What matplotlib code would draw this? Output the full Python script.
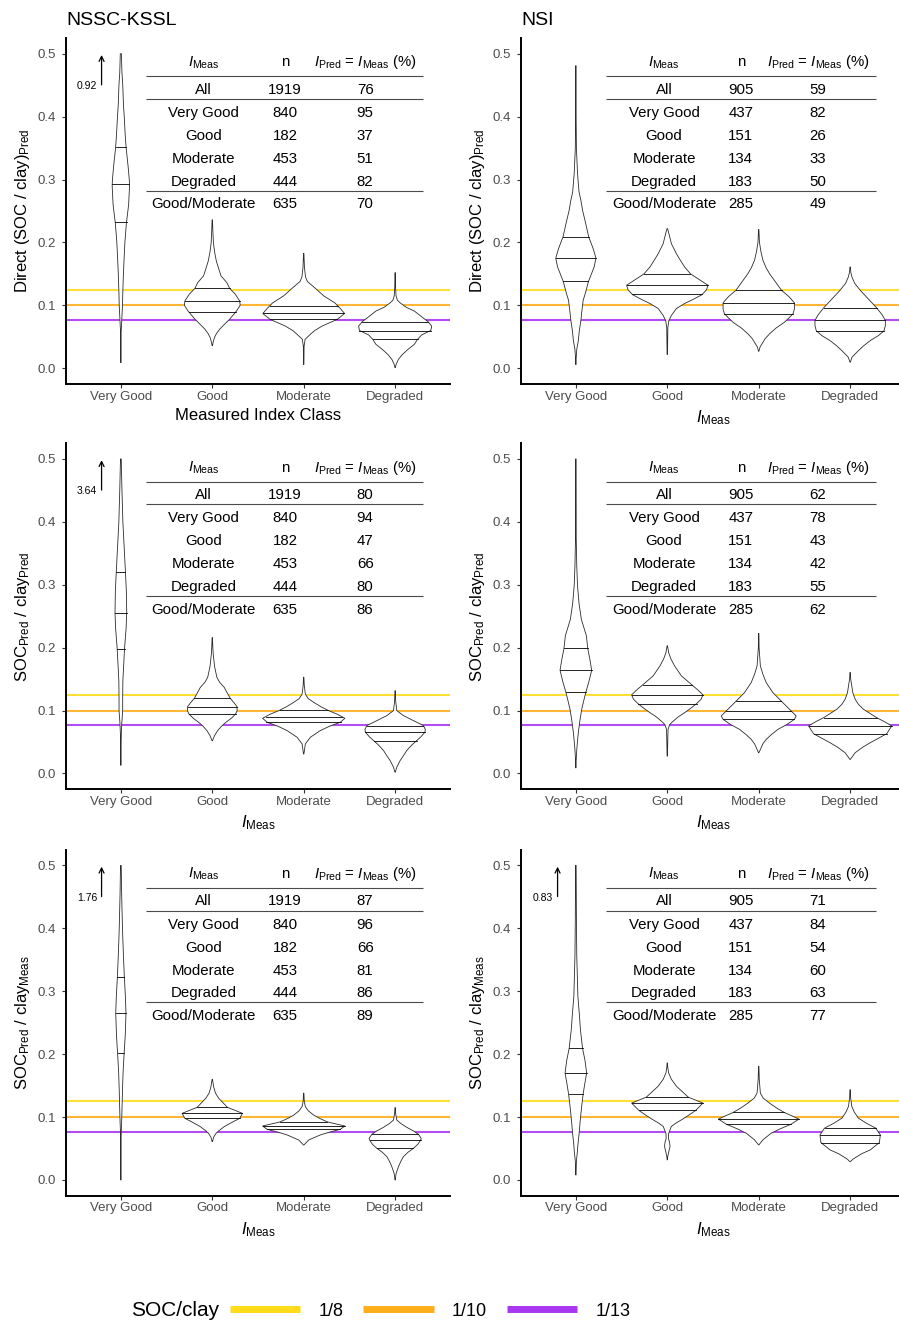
import numpy as np
import matplotlib
matplotlib.use("Agg")
import matplotlib.pyplot as plt
from matplotlib.lines import Line2D

plt.rcParams["font.family"] = ["Liberation Sans", "DejaVu Sans"]
plt.rcParams["mathtext.fontset"] = "custom"
plt.rcParams["mathtext.rm"] = "Liberation Sans"
plt.rcParams["mathtext.it"] = "Liberation Sans:italic"
plt.rcParams["mathtext.bf"] = "Liberation Sans:bold"

# ---------------------------------------------------------------- data
CLASSES = ["Very Good", "Good", "Moderate", "Degraded"]
TABLE_ROWS = ["All", "Very Good", "Good", "Moderate", "Degraded", "Good/Moderate"]

# SOC/clay reference thresholds
REF_VALUES = [1 / 8, 1 / 10, 1 / 13]
REF_LABELS = ["1/8", "1/10", "1/13"]
REF_COLORS = ["#FFD700", "#FFA500", "#A020F0"]

# table contents
KSSL_N = [1919, 840, 182, 453, 444, 635]
NSI_N = [905, 437, 151, 134, 183, 285]
KSSL_DIRECT_PCT = [76, 95, 37, 51, 82, 70]
NSI_DIRECT_PCT = [59, 82, 26, 33, 50, 49]
KSSL_PP_PCT = [80, 94, 47, 66, 80, 86]
NSI_PP_PCT = [62, 78, 43, 42, 55, 62]
KSSL_PM_PCT = [87, 96, 66, 81, 86, 89]
NSI_PM_PCT = [71, 84, 54, 60, 63, 77]

# maximum of the Very Good class (values above 0.5 are off-scale)
KSSL_DIRECT_MAX = "0.92"
KSSL_PP_MAX = "3.64"
KSSL_PM_MAX = "1.76"
NSI_PM_MAX = "0.83"

# violin density profiles: (value, half-width) from top to bottom, one list per class
KSSL_DIRECT_PROFILE = [
    [(0.500, 0.006), (0.47, 0.012), (0.45, 0.021), (0.42, 0.028), (0.40, 0.037), (0.37, 0.048),
     (0.35, 0.058), (0.32, 0.08), (0.30, 0.092), (0.29, 0.095), (0.26, 0.085), (0.23, 0.06),
     (0.20, 0.044), (0.17, 0.034), (0.15, 0.028), (0.12, 0.021), (0.10, 0.018), (0.08, 0.011),
     (0.065, 0.006), (0.055, 0.002), (0.009, 0.002)],
    [(0.236, 0.002), (0.22, 0.006), (0.20, 0.012), (0.185, 0.025), (0.17, 0.045), (0.157, 0.073),
     (0.147, 0.095), (0.136, 0.16), (0.127, 0.19), (0.118, 0.25), (0.107, 0.30), (0.100, 0.305),
     (0.091, 0.265), (0.078, 0.19), (0.068, 0.12), (0.062, 0.08), (0.055, 0.045), (0.049, 0.024),
     (0.042, 0.01), (0.036, 0.002)],
    [(0.1825, 0.002), (0.16, 0.008), (0.145, 0.02), (0.138, 0.04), (0.128, 0.12), (0.115, 0.22),
     (0.104, 0.34), (0.095, 0.40), (0.087, 0.447), (0.078, 0.37), (0.067, 0.20), (0.060, 0.12),
     (0.054, 0.073), (0.046, 0.015), (0.035, 0.004), (0.006, 0.002)],
    [(0.152, 0.002), (0.13, 0.004), (0.115, 0.01), (0.108, 0.025), (0.104, 0.055), (0.097, 0.12),
     (0.091, 0.21), (0.083, 0.28), (0.074, 0.36), (0.067, 0.40), (0.060, 0.39), (0.053, 0.29),
     (0.046, 0.245), (0.038, 0.21), (0.030, 0.14), (0.022, 0.08), (0.014, 0.035), (0.006, 0.01),
     (0.001, 0.002)],
]
KSSL_DIRECT_QUARTILES = [[0.2323, 0.2931, 0.3524], [0.090, 0.1069, 0.1275],
                         [0.0778, 0.0874, 0.0995], [0.046, 0.060, 0.0738]]

NSI_DIRECT_PROFILE = [
    [(0.481, 0.002), (0.40, 0.003), (0.35, 0.006), (0.31, 0.018), (0.28, 0.035), (0.267, 0.055),
     (0.25, 0.075), (0.235, 0.10), (0.209, 0.14), (0.19, 0.19), (0.175, 0.22), (0.161, 0.20),
     (0.138, 0.138), (0.12, 0.105), (0.108, 0.08), (0.09, 0.065), (0.076, 0.055), (0.06, 0.038),
     (0.044, 0.027), (0.03, 0.01), (0.015, 0.003), (0.006, 0.002)],
    [(0.222, 0.003), (0.214, 0.018), (0.198, 0.045), (0.182, 0.10), (0.170, 0.15), (0.161, 0.19),
     (0.150, 0.255), (0.14, 0.36), (0.132, 0.445), (0.125, 0.43), (0.117, 0.38), (0.11, 0.29),
     (0.103, 0.19), (0.095, 0.10), (0.084, 0.045), (0.076, 0.018), (0.065, 0.006), (0.04, 0.004),
     (0.022, 0.002)],
    [(0.2205, 0.002), (0.20, 0.008), (0.185, 0.025), (0.172, 0.045), (0.16, 0.08), (0.15, 0.12),
     (0.14, 0.17), (0.1238, 0.25), (0.114, 0.33), (0.104, 0.39), (0.094, 0.39), (0.0866, 0.375),
     (0.08, 0.33), (0.073, 0.28), (0.064, 0.19), (0.055, 0.12), (0.047, 0.07), (0.041, 0.045),
     (0.034, 0.015), (0.027, 0.002)],
    [(0.161, 0.002), (0.152, 0.008), (0.145, 0.02), (0.135, 0.05), (0.124, 0.11), (0.11, 0.2),
     (0.096, 0.29), (0.085, 0.35), (0.076, 0.385), (0.068, 0.385), (0.0595, 0.37), (0.052, 0.31),
     (0.044, 0.22), (0.036, 0.15), (0.028, 0.09), (0.0175, 0.02), (0.0096, 0.002)],
]
NSI_DIRECT_QUARTILES = [[0.1381, 0.1753, 0.2088], [0.1174, 0.1318, 0.1504],
                        [0.0866, 0.1036, 0.1238], [0.0595, 0.076, 0.0962]]

KSSL_PP_PROFILE = [
    [(0.500, 0.004), (0.45, 0.012), (0.40, 0.022), (0.36, 0.036), (0.321, 0.05), (0.29, 0.06),
     (0.256, 0.064), (0.232, 0.058), (0.198, 0.04), (0.17, 0.03), (0.147, 0.022), (0.12, 0.02),
     (0.10, 0.02), (0.08, 0.01), (0.063, 0.005), (0.04, 0.002), (0.013, 0.002)],
    [(0.216, 0.002), (0.20, 0.006), (0.19, 0.01), (0.17, 0.025), (0.153, 0.05), (0.145, 0.08),
     (0.137, 0.13), (0.1195, 0.196), (0.112, 0.24), (0.1062, 0.27), (0.10, 0.272), (0.0946, 0.255),
     (0.088, 0.21), (0.0814, 0.15), (0.075, 0.10), (0.068, 0.058), (0.06, 0.024), (0.052, 0.002)],
    [(0.153, 0.002), (0.14, 0.006), (0.126, 0.018), (0.119, 0.05), (0.113, 0.11), (0.106, 0.19),
     (0.100, 0.27), (0.094, 0.37), (0.0877, 0.45), (0.0814, 0.40), (0.075, 0.28), (0.068, 0.18),
     (0.0576, 0.073), (0.047, 0.018), (0.031, 0.002)],
    [(0.1316, 0.002), (0.115, 0.006), (0.10, 0.018), (0.092, 0.09), (0.084, 0.20), (0.0761, 0.31),
     (0.07, 0.33), (0.0655, 0.325), (0.058, 0.28), (0.0523, 0.236), (0.045, 0.18), (0.0365, 0.127),
     (0.028, 0.09), (0.0206, 0.055), (0.01, 0.018), (0.002, 0.002)],
]
KSSL_PP_QUARTILES = [[0.1977, 0.2558, 0.3208], [0.0946, 0.1062, 0.1195],
                     [0.0825, 0.0905, 0.1004], [0.0523, 0.0655, 0.0761]]

NSI_PP_PROFILE = [
    [(0.500, 0.003), (0.373, 0.004), (0.33, 0.01), (0.299, 0.018), (0.27, 0.035), (0.245, 0.06),
     (0.219, 0.115), (0.1987, 0.13), (0.18, 0.155), (0.164, 0.173), (0.1445, 0.14), (0.1296, 0.11),
     (0.115, 0.085), (0.102, 0.064), (0.085, 0.045), (0.065, 0.027), (0.045, 0.014), (0.033, 0.008),
     (0.02, 0.003), (0.009, 0.002)],
    [(0.203, 0.002), (0.192, 0.015), (0.182, 0.04), (0.171, 0.08), (0.155, 0.155), (0.1408, 0.27),
     (0.132, 0.34), (0.1249, 0.39), (0.118, 0.37), (0.111, 0.32), (0.104, 0.26), (0.0967, 0.19),
     (0.09, 0.12), (0.083, 0.064), (0.078, 0.027), (0.07, 0.008), (0.05, 0.005), (0.0276, 0.002)],
    [(0.2226, 0.002), (0.20, 0.004), (0.171, 0.018), (0.158, 0.045), (0.1445, 0.082), (0.1286, 0.155),
     (0.1153, 0.245), (0.0994, 0.355), (0.0914, 0.41), (0.0861, 0.39), (0.078, 0.31), (0.0701, 0.21),
     (0.062, 0.14), (0.0542, 0.082), (0.047, 0.045), (0.041, 0.027), (0.033, 0.002)],
    [(0.1605, 0.002), (0.15, 0.006), (0.139, 0.018), (0.128, 0.03), (0.118, 0.055), (0.11, 0.09),
     (0.102, 0.146), (0.0887, 0.29), (0.082, 0.38), (0.0755, 0.455), (0.0632, 0.40), (0.056, 0.31),
     (0.0489, 0.22), (0.042, 0.14), (0.033, 0.055), (0.0223, 0.002)],
]
NSI_PP_QUARTILES = [[0.1296, 0.1642, 0.1987], [0.111, 0.1249, 0.1408],
                    [0.0861, 0.0994, 0.1153], [0.0632, 0.0755, 0.0887]]

KSSL_PM_PROFILE = [
    [(0.500, 0.004), (0.46, 0.008), (0.434, 0.012), (0.40, 0.018), (0.381, 0.022), (0.35, 0.03),
     (0.323, 0.038), (0.29, 0.05), (0.265, 0.056), (0.23, 0.048), (0.202, 0.036), (0.17, 0.024),
     (0.143, 0.018), (0.11, 0.012), (0.09, 0.008), (0.075, 0.004), (0.064, 0.002), (0.0, 0.002)],
    [(0.16, 0.002), (0.148, 0.015), (0.138, 0.035), (0.13, 0.07), (0.1155, 0.165), (0.11, 0.26),
     (0.1059, 0.33), (0.098, 0.30), (0.092, 0.22), (0.0847, 0.13), (0.078, 0.07), (0.074, 0.04),
     (0.068, 0.015), (0.061, 0.002)],
    [(0.138, 0.002), (0.125, 0.006), (0.1165, 0.018), (0.11, 0.05), (0.103, 0.11), (0.0975, 0.18),
     (0.0922, 0.26), (0.0858, 0.45), (0.0805, 0.40), (0.076, 0.28), (0.0715, 0.18), (0.0636, 0.055),
     (0.0556, 0.002)],
    [(0.115, 0.002), (0.105, 0.006), (0.0953, 0.018), (0.09, 0.06), (0.0837, 0.127), (0.078, 0.20),
     (0.0726, 0.255), (0.0662, 0.285), (0.0636, 0.28), (0.057, 0.25), (0.0503, 0.20), (0.044, 0.14),
     (0.037, 0.09), (0.029, 0.06), (0.021, 0.036), (0.01, 0.01), (0.0, 0.002)],
]
KSSL_PM_QUARTILES = [[0.2023, 0.2648, 0.3231], [0.098, 0.1059, 0.1155],
                     [0.0805, 0.0858, 0.0922], [0.0503, 0.0636, 0.0726]]

NSI_PM_PROFILE = [
    [(0.500, 0.003), (0.414, 0.006), (0.356, 0.01), (0.292, 0.022), (0.26, 0.04), (0.239, 0.05),
     (0.2094, 0.073), (0.19, 0.10), (0.17, 0.118), (0.155, 0.10), (0.137, 0.08), (0.12, 0.066),
     (0.1063, 0.056), (0.09, 0.045), (0.0744, 0.036), (0.06, 0.025), (0.0425, 0.015), (0.03, 0.006),
     (0.008, 0.002)],
    [(0.186, 0.002), (0.178, 0.006), (0.17, 0.015), (0.16, 0.045), (0.149, 0.10), (0.1318, 0.228),
     (0.1222, 0.39), (0.1105, 0.31), (0.1025, 0.23), (0.0956, 0.155), (0.09, 0.09), (0.085, 0.044),
     (0.074, 0.015), (0.066, 0.012), (0.06, 0.025), (0.053, 0.03), (0.046, 0.018), (0.037, 0.005),
     (0.032, 0.002)],
    [(0.1807, 0.002), (0.16, 0.006), (0.138, 0.018), (0.13, 0.05), (0.122, 0.12), (0.114, 0.20),
     (0.1073, 0.28), (0.1015, 0.37), (0.0967, 0.44), (0.0887, 0.355), (0.081, 0.23), (0.0744, 0.137),
     (0.0638, 0.046), (0.0558, 0.002)],
    [(0.1435, 0.002), (0.13, 0.006), (0.117, 0.018), (0.108, 0.045), (0.0983, 0.09), (0.09, 0.18),
     (0.0824, 0.28), (0.0717, 0.33), (0.0595, 0.32), (0.0478, 0.22), (0.042, 0.13), (0.037, 0.073),
     (0.033, 0.03), (0.029, 0.002)],
]
NSI_PM_QUARTILES = [[0.137, 0.17, 0.2094], [0.1105, 0.1222, 0.1318],
                    [0.0887, 0.0967, 0.1073], [0.0595, 0.0717, 0.0824]]

# ---------------------------------------------------------------- styling
W, H = 899, 1327
TICK_GREY = "#4D4D4D"
OUTLINE = "#2B2B2B"
REF_ALPHA = 0.8

I_MEAS = r"$I_{\mathrm{Meas}}$"
YLABELS = [r"Direct$\ \left(\mathrm{SOC\ /\ clay}\right)_{\mathrm{Pred}}$",
           r"SOC$_{\mathrm{Pred}}$ / clay$_{\mathrm{Pred}}$",
           r"SOC$_{\mathrm{Pred}}$ / clay$_{\mathrm{Meas}}$"]


def draw_violin(ax, xpos, profile, quartiles):
    ys = np.array([p[0] for p in profile])
    ws = np.array([p[1] for p in profile])
    xs = np.concatenate([xpos + ws, (xpos - ws)[::-1]])
    yy = np.concatenate([ys, ys[::-1]])
    ax.fill(xs, yy, facecolor="white", edgecolor=OUTLINE, lw=0.6,
            joinstyle="round", zorder=3)
    for q in quartiles:
        w = np.interp(q, ys[::-1], ws[::-1])
        ax.plot([xpos - w, xpos + w], [q, q], color="black", lw=0.6, zorder=4)


def draw_table(ax, n_values, pct_values, cols, rule_span):
    fs = 10.8
    head_y = 0.4799
    row_y = [0.4366, 0.3994, 0.363, 0.3264, 0.2905, 0.254]
    rule_y = [0.464, 0.428, 0.2825]
    kw = dict(ha="center", va="baseline", fontsize=fs, color="black", zorder=6)
    ax.text(cols[0], head_y, I_MEAS, **kw)
    ax.text(cols[1], head_y, "n", **kw)
    ax.text(cols[2], head_y, r"$I_{\mathrm{Pred}}$ = $I_{\mathrm{Meas}}$ (%)", **kw)
    for name, n, p, y in zip(TABLE_ROWS, n_values, pct_values, row_y):
        ax.text(cols[0], y, name, **kw)
        ax.text(cols[1], y, str(n), **kw)
        ax.text(cols[2], y, str(p), **kw)
    for y in rule_y:
        ax.plot(rule_span, [y, y], color="#4A4A4A", lw=0.8, zorder=6,
                solid_capstyle="butt")


def draw_panel(ax, profiles, quartiles, n_values, pct_values, ylabel, xlabel,
               cols, rule_span, max_label=None, arrow_x=0.79):
    for v, c in zip(REF_VALUES, REF_COLORS):
        ax.axhline(v, color=c, lw=1.5, alpha=REF_ALPHA, zorder=1)
    for i, (prof, quart) in enumerate(zip(profiles, quartiles)):
        draw_violin(ax, i + 1, prof, quart)
    draw_table(ax, n_values, pct_values, cols, rule_span)
    if max_label is not None:
        ax.annotate("", xy=(arrow_x, 0.498), xytext=(arrow_x, 0.4505),
                    arrowprops=dict(arrowstyle="->", lw=0.9, color="black",
                                    shrinkA=0, shrinkB=0, mutation_scale=9),
                    zorder=6)
        ax.text(arrow_x - 0.05, 0.449, max_label, ha="right", va="center",
                fontsize=7.5, color="black")

    ax.set_xlim(0.4, 4.6)
    ax.set_ylim(-0.025, 0.525)
    ax.set_xticks(range(1, 5))
    ax.set_xticklabels(CLASSES)
    ax.set_yticks([0.0, 0.1, 0.2, 0.3, 0.4, 0.5])
    ax.set_yticklabels(["0.0", "0.1", "0.2", "0.3", "0.4", "0.5"])
    ax.tick_params(axis="both", labelsize=9.5, labelcolor=TICK_GREY,
                   color="#333333", length=2.9, width=0.8)
    ax.tick_params(axis="x", pad=1.8)
    ax.tick_params(axis="y", pad=4.5)
    for side in ("top", "right"):
        ax.spines[side].set_visible(False)
    for side in ("left", "bottom"):
        ax.spines[side].set_linewidth(1.4)
        ax.spines[side].set_color("black")
    ax.set_ylabel(ylabel, fontsize=12)
    ax.yaxis.set_label_coords(-0.088, 0.5)
    ax.set_xlabel(xlabel, fontsize=12)
    ax.xaxis.set_label_coords(0.5, -0.07)


fig = plt.figure(figsize=(W / 100, H / 100), dpi=100)

left_x0, right_x0, ax_w = 66 / W, 521 / W, 384 / W
row_bottoms = [384.0, 789.2, 1195.7]
ax_h = 346 / H

KSSL_COLS = [1.905, 2.797, 3.672]
NSI_COLS = [1.965, 2.804, 3.648]
KSSL_RULE = [1.28, 4.31]
NSI_RULE = [1.33, 4.28]

panels = [
    (KSSL_DIRECT_PROFILE, KSSL_DIRECT_QUARTILES, KSSL_N, KSSL_DIRECT_PCT, KSSL_DIRECT_MAX,
     NSI_DIRECT_PROFILE, NSI_DIRECT_QUARTILES, NSI_N, NSI_DIRECT_PCT, None),
    (KSSL_PP_PROFILE, KSSL_PP_QUARTILES, KSSL_N, KSSL_PP_PCT, KSSL_PP_MAX,
     NSI_PP_PROFILE, NSI_PP_QUARTILES, NSI_N, NSI_PP_PCT, None),
    (KSSL_PM_PROFILE, KSSL_PM_QUARTILES, KSSL_N, KSSL_PM_PCT, KSSL_PM_MAX,
     NSI_PM_PROFILE, NSI_PM_QUARTILES, NSI_N, NSI_PM_PCT, NSI_PM_MAX),
]

for r, (kp, kq, kn, kpct, kmax, npf, nq, nn, npct, nmax) in enumerate(panels):
    bottom = 1 - row_bottoms[r] / H
    axl = fig.add_axes([left_x0, bottom, ax_w, ax_h])
    axr = fig.add_axes([right_x0, bottom, ax_w, ax_h])
    xl_left = "Measured Index Class" if r == 0 else I_MEAS
    draw_panel(axl, kp, kq, kn, kpct, YLABELS[r], xl_left, KSSL_COLS, KSSL_RULE,
               max_label=kmax, arrow_x=0.789)
    draw_panel(axr, npf, nq, nn, npct, YLABELS[r], I_MEAS, NSI_COLS, NSI_RULE,
               max_label=nmax, arrow_x=0.80)

fig.text(66 / W, 1 - 25 / H, "NSSC-KSSL", fontsize=14, va="baseline", ha="left")
fig.text(521 / W, 1 - 25 / H, "NSI", fontsize=14, va="baseline", ha="left")

# legend strip
leg_y = 1 - 1311 / H
fig.text(131 / W, leg_y, "SOC/clay", fontsize=15, va="center", ha="left")
handles = [Line2D([0], [0], color=c, lw=5, alpha=0.9, solid_capstyle="butt")
           for c in REF_COLORS]
fig.legend(handles, REF_LABELS, loc="center left", bbox_to_anchor=(230 / W, leg_y),
           ncol=3, frameon=False, fontsize=13, handlelength=3.9, handletextpad=1.0,
           columnspacing=1.1, borderpad=0, borderaxespad=0)

fig.savefig("out.png", dpi=100)
